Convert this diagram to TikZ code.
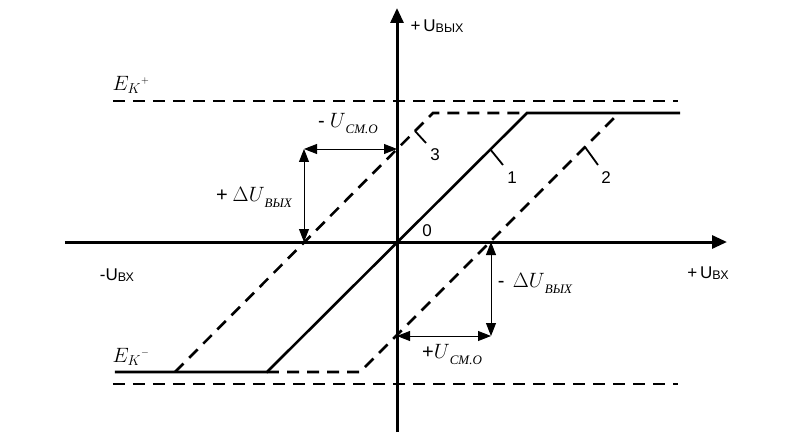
\documentclass[tikz,border=0pt]{standalone}
\usepackage{fontspec}
\setmainfont{Liberation Serif}
\setsansfont{Liberation Sans}
\usetikzlibrary{arrows.meta}

% подстрочные индексы
\newcommand{\nizh}[1]{\raisebox{-0.3em}{\fontsize{13}{15}\selectfont\itshape #1}}
\newcommand{\osind}[1]{\raisebox{-1.5pt}{\fontsize{12.5}{14}\selectfont #1}}

\begin{document}
\begin{tikzpicture}[x=1pt, y=1pt, line width=2.6pt,
    os/.style={line width=3pt, -{Triangle[length=15pt, width=13pt]}},
    shtrih/.style={dash pattern=on 12pt off 8pt},
    strelka/.style={line width=0.9pt, {Triangle[length=13pt, width=10pt]}-{Triangle[length=13pt, width=10pt]}},
    zasechka/.style={line width=1.8pt},
    metka/.style={font=\sffamily\fontsize{17}{20}\selectfont},
    formula/.style={font=\fontsize{20}{24}\selectfont}]

        \useasboundingbox (-397,-197) rectangle (397,242);

        % Оси координат
        \coordinate (O) at (0,0);
        \coordinate (Xl) at (-332,0);
        \coordinate (Xr) at (330,0);
        \coordinate (Yb) at (0,-190);
        \coordinate (Yt) at (0,234);
        \draw[os] (Xl) -- (Xr);
        \draw[os] (Yb) -- (Yt);

        % Уровни насыщения
        \coordinate (Epl) at (-284,141);
        \coordinate (Epr) at (281,141);
        \coordinate (Eml) at (-284,-142);
        \coordinate (Emr) at (281,-142);
        \draw[shtrih] (Epl) -- (Epr);
        \draw[shtrih] (Eml) -- (Emr);

        % Характеристика 1
        \coordinate (A1) at (-282,-130);
        \coordinate (B1) at (-130,-130);
        \coordinate (C1) at (130,129);
        \coordinate (D1) at (283,129);
        \draw (A1) -- (B1) -- (C1) -- (D1);

        % Характеристика 3 (сдвиг влево)
        \coordinate (B3) at (-222,-130);
        \coordinate (C3) at (36,129);
        \coordinate (D3) at (130,129);
        \draw[shtrih] (B3) -- (C3) -- (D3);

        % Характеристика 2 (сдвиг вправо)
        \coordinate (A2) at (-130,-130);
        \coordinate (B2) at (-37,-130);
        \coordinate (C2) at (220,127);
        \draw[shtrih] (A2) -- (B2) -- (C2);

        % Засечки и номера
        \coordinate (T3a) at (18,111);
        \coordinate (T3b) at (29,99);
        \coordinate (T1a) at (93,93);
        \coordinate (T1b) at (106,77);
        \coordinate (T2a) at (188,95);
        \coordinate (T2b) at (201,77);
        \draw[zasechka] (T3a) -- (T3b);
        \draw[zasechka] (T1a) -- (T1b);
        \draw[zasechka] (T2a) -- (T2b);
        \node[metka] (n3) at (38,87) {3};
        \node[metka] (n1) at (115,64) {1};
        \node[metka] (n2) at (209,64) {2};
        \node[metka] (n0) at (30,11) {0};

        % Смещения
        \coordinate (P1) at (-93,93);
        \coordinate (P2) at (0,93);
        \coordinate (P3) at (-93,0);
        \draw[strelka] (P1) -- (P2);
        \draw[strelka] (P1) -- (P3);
        \coordinate (Q1) at (94,-94);
        \coordinate (Q2) at (0,-94);
        \coordinate (Q3) at (94,0);
        \draw[strelka] (Q3) -- (Q1);
        \draw[strelka] (Q2) -- (Q1);

        % Подписи
        \node[formula] (ucm1) at (-49,118) {{\sffamily -} $U$\nizh{СМ.О}};
        \node[formula] (du1) at (-143,45) {{\sffamily +} $\Delta U$\nizh{ВЫХ}};
        \node[formula] (du2) at (138,-41) {{\sffamily -}\, $\Delta U$\nizh{ВЫХ}};
        \node[formula] (ucm2) at (55,-113) {{\sffamily +}$U$\nizh{СМ.О}};
        \node[formula] (ekp) at (-266,157) {$E_K{}^{\scriptscriptstyle +}$};
        \node[formula] (ekm) at (-266,-115) {$E_K{}^{\scriptscriptstyle -}$};

        \node[metka, anchor=west] (uvyh) at (9,216) {+\,U\osind{ВЫХ}};
        \node[metka] (uvxp) at (311,-31) {+\,U\osind{ВХ}};
        \node[metka] (uvxm) at (-280,-33) {-U\osind{ВХ}};

    \end{tikzpicture}
\end{document}
